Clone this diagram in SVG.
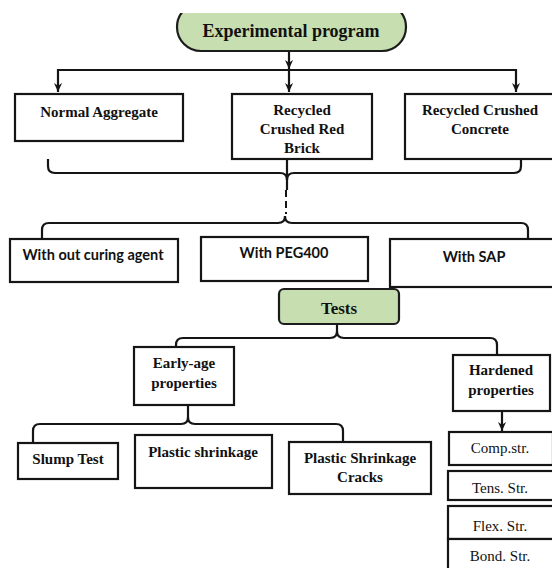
<svg xmlns="http://www.w3.org/2000/svg" width="552" height="568" viewBox="0 0 552 568">
<defs>
  <style>
    .box { fill: #ffffff; stroke: #151515; stroke-width: 2.2; }
    .green { fill: #c6deb0; stroke: #1c1c1c; stroke-width: 2.2; }
    .conn { fill: none; stroke: #151515; stroke-width: 2.2; }
    .dash { fill: none; stroke: #151515; stroke-width: 2; stroke-dasharray: 7 4; }
    .sb { font-family: "Liberation Serif", "Times New Roman", serif; font-weight: bold; font-size: 15px; fill: #111; text-anchor: middle; }
    .sr { font-family: "Liberation Serif", "Times New Roman", serif; font-size: 15px; fill: #111; text-anchor: middle; }
    .ss { font-family: Lato, "Liberation Sans", Arial, sans-serif; font-weight: bold; font-size: 14.5px; fill: #111; text-anchor: middle; }
  </style>
  <marker id="ah" viewBox="0 0 10 10" refX="10" refY="5" markerWidth="10" markerHeight="9" markerUnits="userSpaceOnUse" orient="auto">
    <path d="M0,0.5 L10,5 L0,9.5 L3,5 z" fill="#151515"/>
  </marker>
  <clipPath id="topclip"><rect x="0" y="13" width="552" height="555"/></clipPath>
</defs>

<g id="connectors">
  <path class="conn" d="M289,51 V69" marker-end="url(#ah)"/>
  <path class="conn" d="M289,70 H58 V92" marker-end="url(#ah)"/>
  <path class="conn" d="M289,70 H516 V92" marker-end="url(#ah)"/>
  <path class="conn" d="M289,70 V92" marker-end="url(#ah)"/>
  <path class="conn" d="M48,159 V166 Q48,173 55,173 H280 Q287,173 287,180 Q287,173 294,173 H514 Q521,173 521,166 V159"/>
  <path class="conn" d="M287,159 V190"/>
  <path class="dash" d="M286,190 V214"/>
  <path class="conn" d="M42,238 V230 Q42,223 49,223 H278 Q285,223 285,216 Q285,223 292,223 H521 Q528,223 528,230 V238"/>
  <path class="conn" d="M176,347 V345 Q176,338 183,338 H330 Q337,338 337,331 V324 M337,331 Q337,338 344,338 H490 Q497,338 497,345 V355"/>
  <path class="conn" d="M33,443 V431 Q33,424 40,424 H181 Q188,424 188,417 V405 M188,417 Q188,424 195,424 H336 Q343,424 343,431 V442"/>
  <path class="conn" d="M502,411 V431" marker-end="url(#ah)"/>
</g>

<g id="experimental-program" clip-path="url(#topclip)">
  <rect class="green" x="177" y="3" width="229" height="48" rx="24" ry="24"/>
  <text class="sb" x="291" y="37" style="font-size:18px">Experimental program</text>
</g>

<g id="normal-aggregate">
  <rect class="box" x="15" y="94" width="168" height="47"/>
  <text class="sb" x="99" y="117">Normal Aggregate</text>
</g>

<g id="recycled-brick">
  <rect class="box" x="232" y="94" width="140" height="65"/>
  <text class="sb" x="302" y="115">Recycled</text>
  <text class="sb" x="302" y="134">Crushed Red</text>
  <text class="sb" x="302" y="153">Brick</text>
</g>

<g id="recycled-concrete">
  <rect class="box" x="405" y="94" width="150" height="65"/>
  <text class="sb" x="480" y="115">Recycled Crushed</text>
  <text class="sb" x="480" y="134">Concrete</text>
</g>

<g id="without-curing">
  <rect class="box" x="10" y="239" width="168" height="43"/>
  <text class="ss" x="93" y="260">With out curing agent</text>
</g>

<g id="with-peg400">
  <rect class="box" x="201" y="237" width="167" height="44"/>
  <text class="ss" x="284" y="258">With PEG400</text>
</g>

<g id="with-sap">
  <rect class="box" x="390" y="239" width="165" height="48"/>
  <text class="ss" x="474" y="262">With SAP</text>
</g>

<g id="tests">
  <rect class="green" x="279" y="289" width="120" height="35" rx="5" ry="5"/>
  <text class="sb" x="339" y="314" style="font-size:17px">Tests</text>
</g>

<g id="early-age">
  <rect class="box" x="134" y="347" width="100" height="58"/>
  <text class="sb" x="184" y="368">Early-age</text>
  <text class="sb" x="184" y="388">properties</text>
</g>

<g id="hardened">
  <rect class="box" x="453" y="355" width="97" height="56"/>
  <text class="sb" x="501" y="375">Hardened</text>
  <text class="sb" x="501" y="395">properties</text>
</g>

<g id="slump-test">
  <rect class="box" x="18" y="443" width="100" height="36"/>
  <text class="sb" x="68" y="464">Slump Test</text>
</g>

<g id="plastic-shrinkage">
  <rect class="box" x="135" y="435" width="137" height="53"/>
  <text class="sb" x="203" y="457">Plastic shrinkage</text>
</g>

<g id="plastic-shrinkage-cracks">
  <rect class="box" x="289" y="442" width="142" height="52"/>
  <text class="sb" x="360" y="463">Plastic Shrinkage</text>
  <text class="sb" x="360" y="482">Cracks</text>
</g>

<g id="comp-str">
  <rect class="box" x="449" y="432" width="104" height="33"/>
  <text class="sr" x="500" y="453">Comp.str.</text>
</g>

<g id="tens-str">
  <rect class="box" x="448" y="471" width="106" height="29"/>
  <text class="sr" x="500" y="493">Tens. Str.</text>
</g>

<g id="flex-str">
  <rect class="box" x="448" y="506" width="106" height="33"/>
  <text class="sr" x="500" y="531">Flex. Str.</text>
</g>

<g id="bond-str">
  <rect class="box" x="448" y="539" width="106" height="32"/>
  <text class="sr" x="500" y="561">Bond. Str.</text>
</g>
</svg>
